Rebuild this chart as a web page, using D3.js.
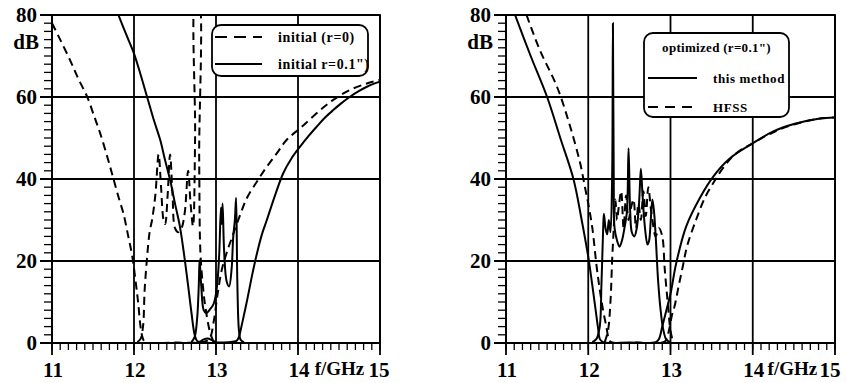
<!DOCTYPE html>
<html>
<head>
<meta charset="utf-8">
<script src="https://cdn.jsdelivr.net/npm/d3@7"></script>
<style>
  body { margin: 0; background: #fff; }
  svg text { font-family: "Liberation Serif", "Times New Roman", serif; font-weight: bold; fill: #000; }
</style>
</head>
<body>
<div id="chart"></div>
<script>
// axis ticks
const xTicks = [11, 12, 13, 14, 15];
const yTicks = [0, 20, 40, 60, 80];

// left panel: initial (r=0), dashed
const initR0Rej = [[11.0,78],[11.1,74],[11.22,69],[11.32,64.5],[11.43,60],[11.52,55],[11.59,51],[11.68,45],[11.75,40],[11.82,35],[11.87,31.7],[11.93,26],[11.98,21],[12.02,15],[12.05,10],[12.08,4],[12.11,1],[12.14,0.2],[12.5,0.1],[12.85,0.3],[12.92,1],[12.97,5],[13.02,12],[13.07,17.8],[13.13,22],[13.2,26],[13.29,31],[13.38,35.5],[13.5,39.4],[13.62,43],[13.75,46.5],[13.86,49.5],[14.05,52.8],[14.27,56.8],[14.43,59.3],[14.63,61.7],[14.84,63.3],[15.0,64.2]];
const initR0Ret = [[12.04,0.2],[12.08,1],[12.11,4],[12.13,13],[12.16,21],[12.19,27],[12.22,30],[12.26,36],[12.3,46],[12.33,38],[12.36,30],[12.38,29],[12.41,36],[12.44,46],[12.47,36],[12.5,28],[12.54,27],[12.58,28],[12.62,32],[12.66,42],[12.69,34],[12.72,28.5],[12.745,50],[12.755,85],[12.785,85],[12.795,45],[12.81,22],[12.84,14],[12.87,8.8],[12.93,2.4],[12.97,0.3]];
// left panel: initial r=0.1", solid
const initR1Rej = [[11.81,80],[11.9,75.5],[12.0,70.6],[12.08,65.5],[12.16,60],[12.24,54.5],[12.32,49.5],[12.38,44.5],[12.44,39.8],[12.5,34],[12.56,28.4],[12.62,20.2],[12.66,14],[12.7,7.5],[12.74,2],[12.77,0.5],[12.8,0.3],[12.85,0.9],[12.9,1.1],[12.95,0.7],[13.0,0.2],[13.15,0.2],[13.25,0.5],[13.28,1.5],[13.31,4],[13.38,10.5],[13.44,16.5],[13.5,21.9],[13.56,26.5],[13.62,30],[13.72,36],[13.82,41.4],[13.92,45],[14.03,48],[14.13,50.5],[14.23,52.8],[14.33,55],[14.43,56.8],[14.53,58.5],[14.63,60],[14.73,61.3],[14.84,62.5],[14.92,63.2],[15.0,63.7]];
const initR1Ret = [[12.7,0.2],[12.74,1.5],[12.77,6],[12.79,14],[12.8,20.2],[12.82,14],[12.85,8],[12.88,7.3],[12.93,8.3],[12.97,9.5],[13.0,12],[13.02,15.4],[13.04,22],[13.06,33],[13.07,29],[13.08,34],[13.1,22],[13.13,15],[13.16,13.8],[13.19,18],[13.21,25.9],[13.23,30],[13.245,35.4],[13.26,15],[13.28,3],[13.3,0.8],[13.34,0.2]];

// right panel: optimized, this method (solid)
const optMethRej = [[11.11,80],[11.3,70],[11.5,60],[11.66,50],[11.82,40],[11.92,30],[12.0,21],[12.05,14],[12.09,8],[12.12,3.5],[12.14,1],[12.18,0.2],[12.5,0.1],[12.82,0.2],[12.86,1],[12.9,4],[12.95,8],[13.0,12],[13.07,19.5],[13.19,28.4],[13.36,35.5],[13.52,40.6],[13.72,45],[14.0,48.7],[14.25,51.6],[14.5,53.4],[14.8,54.7],[15.0,55]];
const optMethRet = [[12.05,0.2],[12.1,1],[12.14,4],[12.16,14],[12.18,27],[12.19,31.5],[12.21,28],[12.23,26.5],[12.25,30],[12.27,27],[12.29,40],[12.3,78],[12.31,40],[12.32,28],[12.35,25],[12.38,23.5],[12.41,25],[12.44,28],[12.47,32],[12.49,47.5],[12.51,32],[12.53,27],[12.56,26],[12.59,28],[12.62,35],[12.64,42.5],[12.66,36],[12.69,28],[12.72,24],[12.74,25],[12.76,30],[12.78,35],[12.8,32],[12.82,26],[12.85,15],[12.88,8],[12.91,3.5],[12.95,0.8],[13.0,0.2]];
// right panel: optimized, HFSS (dashed)
const optHfssRej = [[11.25,80],[11.41,71.5],[11.62,62.5],[11.78,52.8],[11.9,44],[11.96,38],[12.0,34],[12.05,28],[12.1,19],[12.14,13],[12.18,8],[12.22,4],[12.25,1],[12.28,0.2],[12.6,0.1],[12.9,0.1],[12.94,0.5],[12.98,3],[13.02,7],[13.05,9],[13.1,14],[13.15,18.7],[13.2,23.5],[13.31,30],[13.42,35.5],[13.52,39],[13.65,43],[13.8,46.3],[14.0,48.7],[14.25,51.4],[14.5,53.3],[14.8,54.7],[15.0,55]];
const optHfssRet = [[12.2,0.2],[12.24,3],[12.27,10],[12.29,20],[12.31,28],[12.33,35],[12.35,30],[12.37,33],[12.4,37],[12.43,28],[12.46,36],[12.49,30],[12.52,33],[12.55,35],[12.58,28],[12.61,34],[12.64,30],[12.67,37],[12.7,31],[12.73,38],[12.76,33],[12.78,30],[12.82,26],[12.86,28],[12.9,26],[12.93,18],[12.97,9],[13.0,3],[13.03,0.3]];

const W = 846, H = 383;
const svg = d3.select('#chart').append('svg')
  .attr('width', W).attr('height', H);

const panels = [
  {
    left: 52, right: 380, id: 'pl',
    series: [
      {data: initR0Rej, dash: '8,5'}, {data: initR0Ret, dash: '8,5'},
      {data: initR1Rej, dash: null}, {data: initR1Ret, dash: null},
    ],
    legend: {x: 212, y: 25, w: 156, h: 51, title: null,
      items: [{label: 'initial (r=0)', dash: '12,7', y: 37}, {label: 'initial r=0.1")', dash: null, y: 64}],
      lineX: [215, 262], textX: 278, size: 14},
    f15: 379,
  },
  {
    left: 506, right: 835, id: 'pr',
    series: [
      {data: optMethRej, dash: null}, {data: optMethRet, dash: null},
      {data: optHfssRej, dash: '8,5'}, {data: optHfssRet, dash: '8,5'},
    ],
    legend: {x: 644, y: 33, w: 145, h: 84, title: 'optimized (r=0.1")',
      items: [{label: 'this method', dash: null, y: 78}, {label: 'HFSS', dash: '10,7', y: 107}],
      lineX: [648, 697], textX: 713, size: 13},
    f15: 830,
  },
];

const plotTop = 15, plotBottom = 343;

panels.forEach(p => {
  const x = d3.scaleLinear().domain([11, 15]).range([p.left, p.right]);
  const y = d3.scaleLinear().domain([0, 80]).range([plotBottom, plotTop]);
  const g = svg.append('g');

  g.append('clipPath').attr('id', p.id)
    .append('rect').attr('x', p.left).attr('y', plotTop)
    .attr('width', p.right - p.left).attr('height', plotBottom - plotTop);

  // grid
  g.selectAll('.gx').data(xTicks).enter().append('line')
    .attr('x1', d => x(d)).attr('x2', d => x(d))
    .attr('y1', plotTop).attr('y2', plotBottom + 12)
    .attr('stroke', '#000').attr('stroke-width', 1.8);
  g.selectAll('.gy').data(yTicks).enter().append('line')
    .attr('x1', p.left - 12).attr('x2', p.right)
    .attr('y1', d => y(d)).attr('y2', d => y(d))
    .attr('stroke', '#000').attr('stroke-width', 1.8);

  // minor ticks
  g.selectAll('.mx').data(d3.range(110, 151).map(v => v / 10)).enter().append('line')
    .attr('x1', d => x(d)).attr('x2', d => x(d))
    .attr('y1', plotBottom).attr('y2', plotBottom + 7)
    .attr('stroke', '#000').attr('stroke-width', 1.3);
  g.selectAll('.my').data(d3.range(0, 81, 2)).enter().append('line')
    .attr('x1', p.left - 8).attr('x2', p.left)
    .attr('y1', d => y(d)).attr('y2', d => y(d))
    .attr('stroke', '#000').attr('stroke-width', 1.3);

  // tick labels
  g.selectAll('.ty').data(yTicks).enter().append('text')
    .attr('x', p.left - 15).attr('y', d => y(d) + 7)
    .attr('text-anchor', 'end').attr('font-size', 21)
    .text(d => d);
  g.append('text').attr('x', p.left - 13).attr('y', 49)
    .attr('text-anchor', 'end').attr('font-size', 21).text('dB');

  g.selectAll('.tx').data(xTicks.slice(0, 4)).enter().append('text')
    .attr('x', d => x(d) + 1).attr('y', 377)
    .attr('text-anchor', 'middle').attr('font-size', 21)
    .text(d => d);
  g.append('text').attr('x', p.f15).attr('y', 377)
    .attr('text-anchor', 'middle').attr('font-size', 21).text('15');
  g.append('text').attr('x', (x(14) + p.f15) / 2 + 1).attr('y', 375)
    .attr('text-anchor', 'middle').attr('font-size', 19).text('f/GHz');

  // curves
  const line = d3.line()
    .x(d => x(d[0])).y(d => y(d[1]))
    .curve(d3.curveCatmullRom.alpha(0.5));
  g.selectAll('.curve').data(p.series).enter().append('path')
    .attr('clip-path', `url(#${p.id})`)
    .attr('d', d => line(d.data))
    .attr('fill', 'none').attr('stroke', '#000')
    .attr('stroke-width', 2)
    .attr('stroke-dasharray', d => d.dash);

  // frame
  g.append('rect').attr('x', p.left).attr('y', plotTop)
    .attr('width', p.right - p.left).attr('height', plotBottom - plotTop)
    .attr('fill', 'none').attr('stroke', '#000').attr('stroke-width', 1.8);

  // legend
  const L = p.legend;
  const lg = g.append('g');
  lg.append('rect').attr('x', L.x).attr('y', L.y).attr('width', L.w).attr('height', L.h)
    .attr('rx', 9).attr('fill', '#fff').attr('stroke', '#000').attr('stroke-width', 1.8);
  if (L.title) {
    lg.append('text').attr('x', L.x + L.w / 2).attr('y', 52)
      .attr('text-anchor', 'middle').attr('font-size', L.size)
      .attr('letter-spacing', 0.3).text(L.title);
  }
  L.items.forEach(it => {
    lg.append('line').attr('x1', L.lineX[0]).attr('x2', L.lineX[1])
      .attr('y1', it.y).attr('y2', it.y)
      .attr('stroke', '#000').attr('stroke-width', 2)
      .attr('stroke-dasharray', it.dash);
    lg.append('text').attr('x', L.textX).attr('y', it.y + 5)
      .attr('font-size', L.size).attr('letter-spacing', 0.6).text(it.label);
  });
});
</script>
</body>
</html>
